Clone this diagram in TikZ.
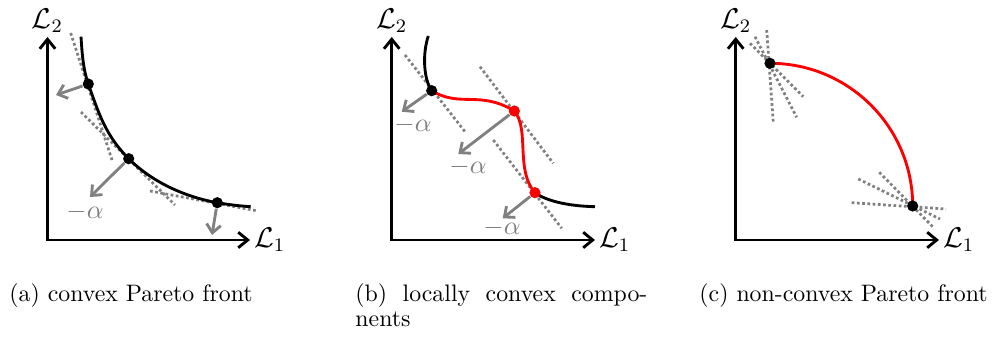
\documentclass[tikz,border=0pt]{standalone}
\usetikzlibrary{arrows.meta}
\begin{document}
\begin{tikzpicture}[x=0.42pt,y=-0.42pt,
  axis/.style={line width=1.2pt,{Straight Barb[length=4pt,width=6.5pt]}-{Straight Barb[length=4pt,width=6.5pt]}},
  front/.style={line width=1.2pt},
  redfront/.style={line width=1.2pt,red},
  tang/.style={gray,line width=1.15pt,dash pattern=on 1.15pt off 1.05pt},
  normal/.style={gray,line width=1.2pt,-{Straight Barb[length=3.5pt,width=6pt]}},
  dot/.style={circle,fill=black,inner sep=0pt,minimum size=4.7pt},
  reddot/.style={circle,fill=red,inner sep=0pt,minimum size=4.7pt},
  alab/.style={gray,inner sep=0pt,font=\fontsize{11}{13}\selectfont},
  axlab/.style={inner sep=1.5pt,font=\large},
  captext/.style={anchor=base west,inner sep=0pt},
]
\useasboundingbox (0,0) rectangle (996,337);

% ---------------- (a) ----------------
\coordinate (aO) at (47.5,240);
\coordinate (aY) at (47.5,37);
\coordinate (aX) at (250,240);
\draw[axis] (aY) -- (aO) -- (aX);
\node[axlab,above] (aL2) at (aY) {$\mathcal{L}_2$};
\node[axlab,right] (aL1) at (aX) {$\mathcal{L}_1$};

\draw[tang] (70.7,33) -- (112,160);
\draw[tang] (81,112) -- (175,205);
\draw[tang] (150,191) -- (258,211);

\draw[front] (81,36.7) .. controls (82,52) and (83,69) .. (88.3,84)
  .. controls (98.9,114.1) and (106.1,136.1) .. (128.7,158.7)
  .. controls (152,182) and (184.8,196.9) .. (217.3,202.7)
  .. controls (228,204.6) and (240,206) .. (250.7,206.7);

\node[dot] (a1) at (88.3,84) {};
\node[dot] (a2) at (128.7,158.7) {};
\node[dot] (a3) at (217.3,202.7) {};
\coordinate (a1n) at (56,95);
\coordinate (a2n) at (90,197);
\coordinate (a3n) at (212,235);
\draw[normal] (a1) -- (a1n);
\draw[normal] (a2) -- (a2n);
\draw[normal] (a3) -- (a3n);
\node[alab] (aal) at (85,212) {$-\alpha$};

\node[captext] (acap) at (9,302) {(a) convex Pareto front};

% ---------------- (b) ----------------
\coordinate (bO) at (391.7,240);
\coordinate (bY) at (391.7,37);
\coordinate (bX) at (595,240);
\draw[axis] (bY) -- (bO) -- (bX);
\node[axlab,above] (bL2) at (bY) {$\mathcal{L}_2$};
\node[axlab,right] (bL1) at (bX) {$\mathcal{L}_1$};

\draw[tang] (405,55) -- (465,131.7);
\draw[tang] (480,66.7) -- (553.3,163.3);
\draw[tang] (493.3,140) -- (561.7,228.3);

\draw[front] (428.3,36) .. controls (422,55) and (424,80) .. (431.7,90.7);
\draw[redfront] (431.7,90.7) .. controls (460,108) and (480,90) .. (514.3,111)
  .. controls (530,130) and (515,170) .. (535,192.7);
\draw[front] (535,192.7) .. controls (545,200) and (565,206) .. (595,206.7);

\node[dot] (b1) at (431.7,90.7) {};
\node[reddot] (b2) at (514.3,111) {};
\node[reddot] (b3) at (535,192.7) {};
\coordinate (b1n) at (401.7,111.7);
\coordinate (b2n) at (458.3,154);
\coordinate (b3n) at (502.7,218.3);
\draw[normal] (b1) -- (b1n);
\draw[normal] (b2) -- (b2n);
\draw[normal] (b3) -- (b3n);
\node[alab] (bal1) at (413,125) {$-\alpha$};
\node[alab] (bal2) at (468,167) {$-\alpha$};
\node[alab] (bal3) at (502,228) {$-\alpha$};

\node[captext] (bcap1) at (355,302) {\makebox[122.6pt][s]{(b) locally convex compo-}};
\node[captext] (bcap2) at (355,327) {nents};

% ---------------- (c) ----------------
\coordinate (cO) at (735.7,240);
\coordinate (cY) at (735.7,37);
\coordinate (cX) at (939,240);
\draw[axis] (cY) -- (cO) -- (cX);
\node[axlab,above] (cL2) at (cY) {$\mathcal{L}_2$};
\node[axlab,right] (cL1) at (cX) {$\mathcal{L}_1$};

\draw[tang] (766.7,30) -- (773.3,122.3);
\draw[tang] (750,43.3) -- (803.3,96.7);
\draw[tang] (755,36.7) -- (796.7,117.3);
\draw[tang] (851.7,202.7) -- (946,209);
\draw[tang] (858.3,179) -- (940,219);
\draw[tang] (879.3,172.3) -- (932.7,226.7);

\draw[redfront] (770,63.3) .. controls (848.8,63.3) and (912.7,127.2) .. (912.7,206);
\node[dot] (c1) at (770,63.3) {};
\node[dot] (c2) at (912.7,206) {};

\node[captext] (ccap) at (699,302) {(c) non-convex Pareto front};
\end{tikzpicture}
\end{document}
